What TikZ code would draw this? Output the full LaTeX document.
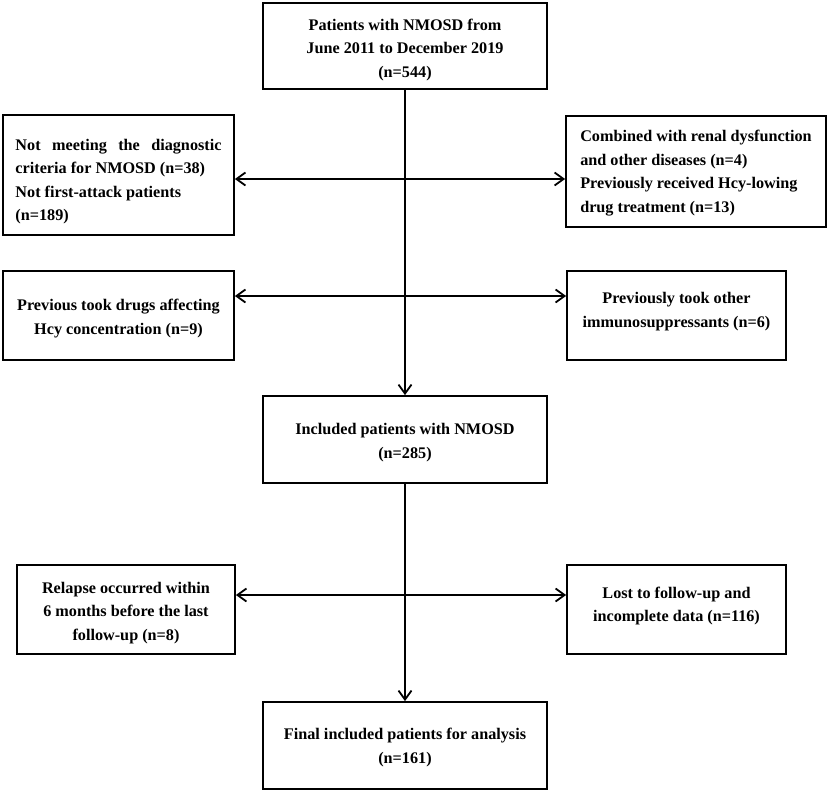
\documentclass[tikz,border=0pt]{standalone}
\usepackage{fontspec}
\setmainfont{Liberation Serif}
\usetikzlibrary{arrows.meta}
\newcommand{\tdn}[1]{\rule{0pt}{#1}}
\newcommand{\tup}[1]{\rule[-#1]{0pt}{0pt}}
\begin{document}
\begin{tikzpicture}[x=1pt,y=-1pt,
  box/.style={draw,line width=1.8pt,rectangle,inner sep=0pt,align=center,
    font=\bfseries\fontsize{16.2}{23.5}\selectfont},
  conn/.style={line width=1.8pt,-{Straight Barb[length=9pt,width=13pt]}},
  biconn/.style={line width=1.8pt,{Straight Barb[length=9pt,width=13pt]}-{Straight Barb[length=9pt,width=13pt]}}]
\useasboundingbox (0,0) rectangle (829,792);
\node[box,minimum width=284pt,minimum height=86pt] (top) at (405,46)
  {\tdn{19.2pt}Patients with NMOSD from\\June 2011 to December 2019\\(n=544)};
\node[box,align=left,minimum width=231pt,minimum height=120pt] (l1) at (118.5,175)
  {\tdn{24.2pt}\makebox[206pt][s]{Not meeting the diagnostic}\\criteria for NMOSD (n=38)\\Not first-attack patients\\(n=189)};
\node[box,align=left,minimum width=260pt,minimum height=111pt] (r1) at (696,171.5)
  {\tdn{14.2pt}Combined with renal dysfunction\\and other diseases (n=4)\\Previously received Hcy-lowing\\drug treatment (n=13)};
\node[box,minimum width=231pt,minimum height=89pt] (l2) at (118.5,315.5)
  {\tdn{17.2pt}Previous took drugs affecting\\Hcy concentration (n=9)};
\node[box,minimum width=219pt,minimum height=89pt] (r2) at (676.5,315.5)
  {Previously took other\\immunosuppressants (n=6)\tup{11.5pt}};
\node[box,minimum width=284pt,minimum height=87pt] (mid) at (405,439.5)
  {\tdn{17.2pt}Included patients with NMOSD\\(n=285)};
\node[box,minimum width=218pt,minimum height=89pt] (l3) at (126,609.5)
  {\tdn{18.2pt}Relapse occurred within\\6 months before the last\\follow-up (n=8)};
\node[box,minimum width=219pt,minimum height=89pt] (r3) at (676.5,609.5)
  {Lost to follow-up and\\incomplete data (n=116)\tup{10.5pt}};
\node[box,minimum width=284pt,minimum height=87pt] (fin) at (405,745.5)
  {\tdn{15.2pt}Final included patients for analysis\\(n=161)};
\coordinate (c1) at (405,179);
\coordinate (c2) at (405,296);
\coordinate (c3) at (405,595);
\draw[conn] (top.south) -- (mid.north);
\draw[conn] (mid.south) -- (fin.north);
\draw[biconn] (l1.east |- c1) -- (r1.west |- c1);
\draw[biconn] (l2.east |- c2) -- (r2.west |- c2);
\draw[biconn] (l3.east |- c3) -- (r3.west |- c3);
\end{tikzpicture}
\end{document}
